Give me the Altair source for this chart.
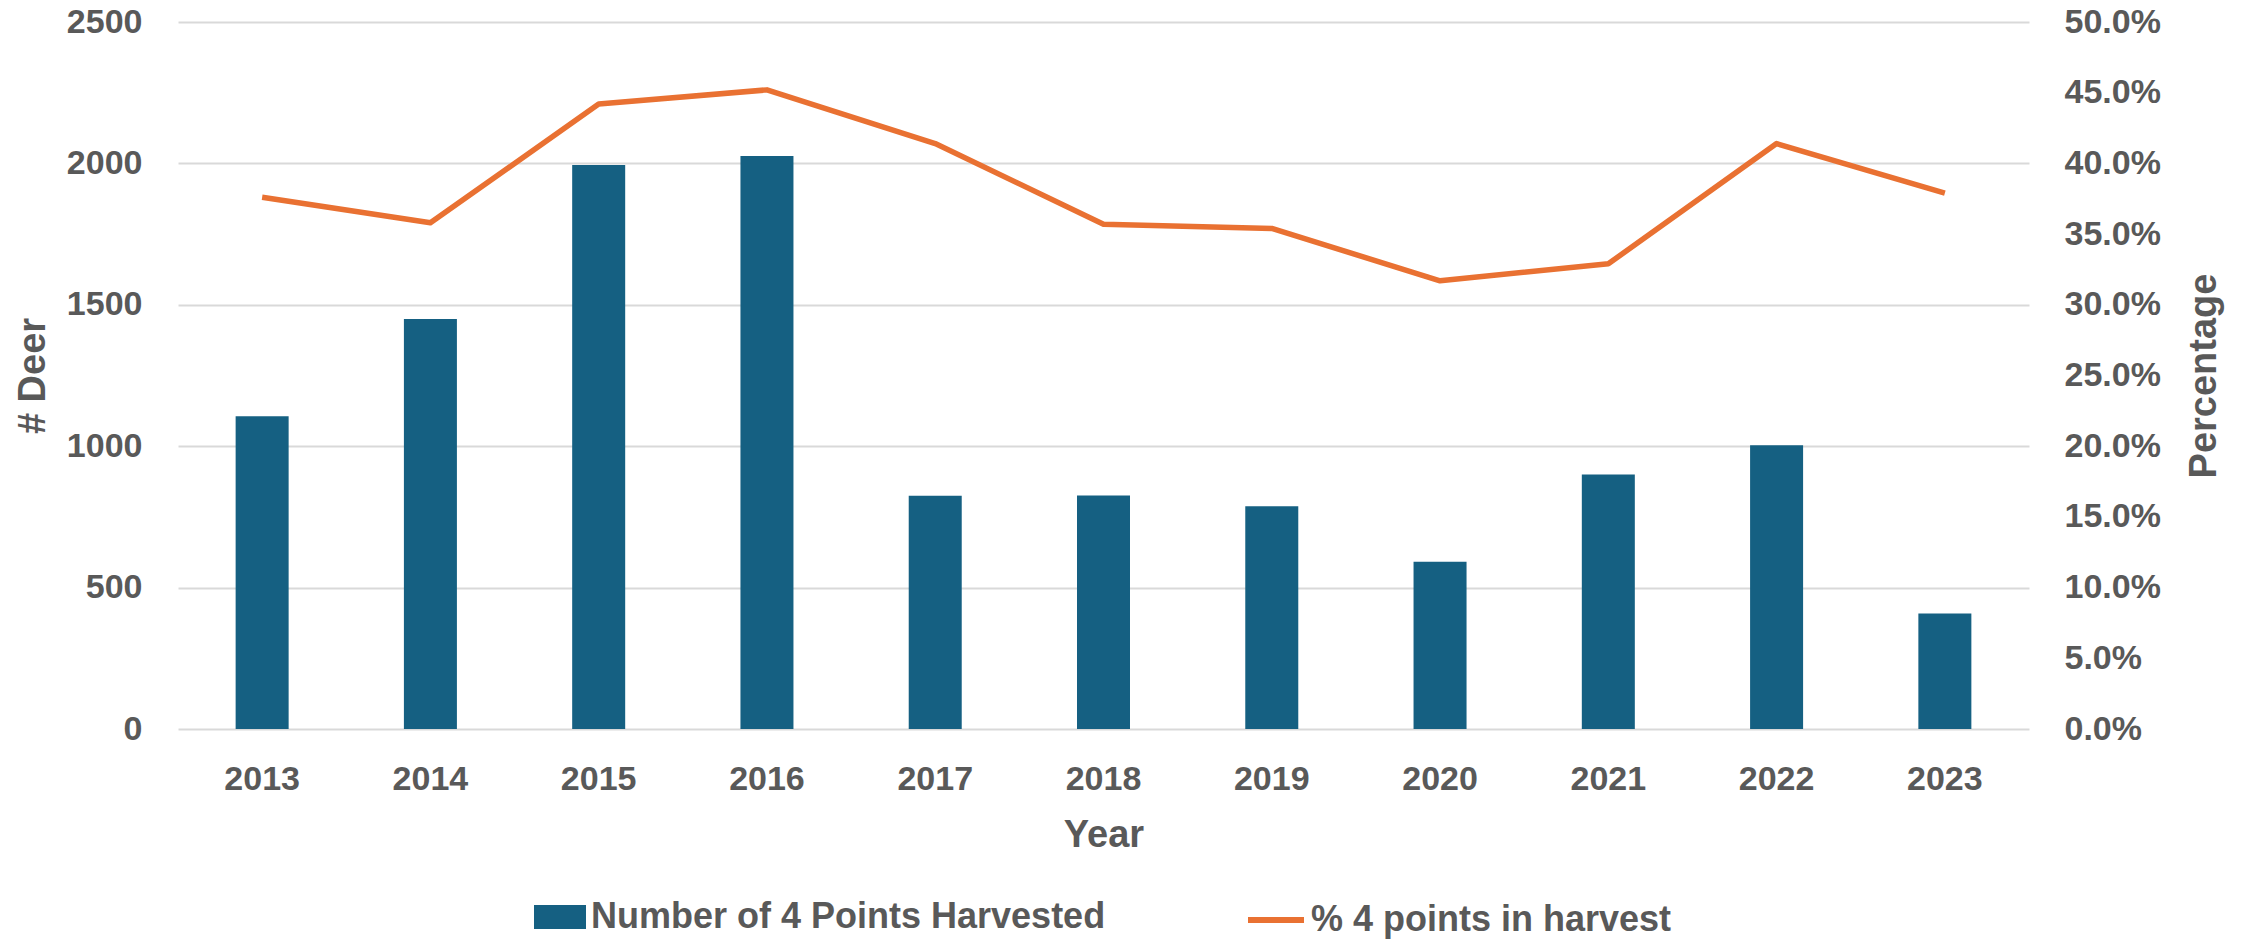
import altair as alt
import pandas as pd

years = ["2013", "2014", "2015", "2016", "2017", "2018", "2019", "2020", "2021", "2022", "2023"]
harvested = [1106, 1450, 1994, 2026, 825, 826, 788, 591, 900, 1003, 408]
pct_four_points = [0.376, 0.358, 0.442, 0.452, 0.414, 0.357, 0.354, 0.317, 0.329, 0.414, 0.379]
left_ticks = [0, 500, 1000, 1500, 2000, 2500]
right_ticks = [0.0, 0.05, 0.10, 0.15, 0.20, 0.25, 0.30, 0.35, 0.40, 0.45, 0.50]
bar_name = "Number of 4 Points Harvested"
line_name = "% 4 points in harvest"

BLUE = "#156082"
ORANGE = "#E97132"
GREY = "#595959"
GRID = "#D9D9D9"
FONT = "Liberation Sans"

df = pd.DataFrame({
    "Year": years,
    "Harvested": harvested,
    "Pct": pct_four_points,
    "bar_series": [bar_name] * len(years),
    "line_series": [line_name] * len(years),
})

x_enc = alt.X(
    "Year:O",
    sort=years,
    scale=alt.Scale(paddingInner=0.685, paddingOuter=0.3425),
    axis=alt.Axis(
        title="Year", labelAngle=0, ticks=False, domain=False, grid=False,
        labelFont=FONT, labelFontSize=34, labelFontWeight="bold", labelColor=GREY,
        labelBaseline="alphabetic", labelPadding=60,
        titleFont=FONT, titleFontSize=38, titleFontWeight="bold", titleColor=GREY,
        titleBaseline="alphabetic", titleY=117,
    ),
)

bars = alt.Chart(df).mark_bar().encode(
    x=x_enc,
    y=alt.Y(
        "Harvested:Q",
        scale=alt.Scale(domain=[0, 2500], nice=False),
        axis=alt.Axis(
            title="# Deer", values=left_ticks, format="d",
            grid=True, gridColor=GRID, gridWidth=2, ticks=False, domain=False,
            labelFont=FONT, labelFontSize=34, labelFontWeight="bold", labelColor=GREY,
            labelPadding=36,
            titleFont=FONT, titleFontSize=38, titleFontWeight="bold", titleColor=GREY,
            titleAngle=270, titleBaseline="alphabetic", titleX=-134,
        ),
    ),
    fill=alt.Fill(
        "bar_series:N",
        scale=alt.Scale(domain=[bar_name], range=[BLUE]),
        legend=alt.Legend(
            title=None, orient="none", legendX=356, legendY=869, direction="horizontal",
            symbolType="M-1,-0.46H1V0.46H-1Z", symbolSize=2704, symbolStrokeWidth=0,
            labelFont=FONT, labelFontSize=36, labelFontWeight="bold", labelColor=GREY,
            labelOffset=5, labelLimit=1000,
        ),
    ),
)

line = alt.Chart(df).mark_line(strokeWidth=5.5, strokeJoin="round").encode(
    x=x_enc,
    y=alt.Y(
        "Pct:Q",
        scale=alt.Scale(domain=[0, 0.5], nice=False),
        axis=alt.Axis(
            title="Percentage", orient="right", values=right_ticks, format=".1%",
            grid=False, ticks=False, domain=False,
            labelFont=FONT, labelFontSize=34, labelFontWeight="bold", labelColor=GREY,
            labelPadding=35,
            titleFont=FONT, titleFontSize=38, titleFontWeight="bold", titleColor=GREY,
            titleAngle=270, titleBaseline="alphabetic", titleX=186,
        ),
    ),
    stroke=alt.Stroke(
        "line_series:N",
        scale=alt.Scale(domain=[line_name], range=[ORANGE]),
        legend=alt.Legend(
            title=None, orient="none", legendX=1067, legendY=867, direction="horizontal",
            symbolType="stroke", symbolSize=3136, symbolStrokeWidth=6,
            labelFont=FONT, labelFontSize=36, labelFontWeight="bold", labelColor=GREY,
            labelOffset=4, labelLimit=1000,
        ),
    ),
)

chart = alt.layer(bars, line).resolve_scale(y="independent").properties(
    width=1851,
    height=707,
    padding={"left": 170, "top": 14, "right": 210, "bottom": 210},
    autosize=alt.AutoSizeParams(type="none"),
).configure_view(stroke=None)

chart.save("out.html", embed_options={"renderer": "svg", "actions": False})
